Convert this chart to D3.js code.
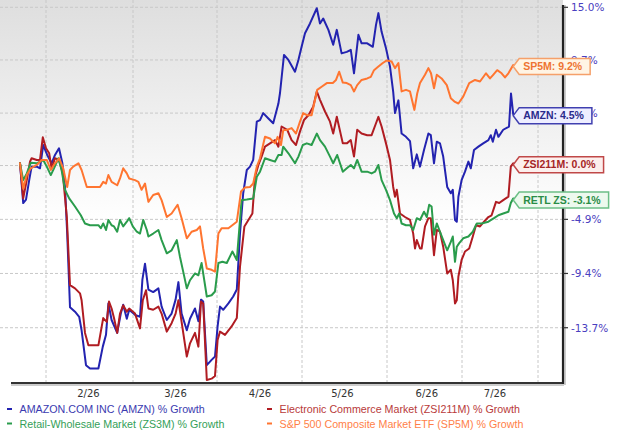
<!DOCTYPE html>
<html><head><meta charset="utf-8">
<script src="https://cdn.jsdelivr.net/npm/d3@7"></script>
<style>body{margin:0;background:#fff}svg{display:block}</style>
</head><body><svg id="c" width="619" height="436"></svg>
<script>
// [session index, % growth]
const amzn = [[0,0],[0.8,-3.5],[1.5,-3.2],[2.3,-1.5],[2.9,-0.3],[4.2,-0.3],[5,-0.45],[5.8,1.65],[6.8,0.75],[7.9,0],[8.75,0.75],[9.75,1.35],[10.6,0],[11.25,-2.1],[11.8,-6.1],[12.5,-12.1],[13.75,-12.45],[14.8,-12.85],[15.4,-13.9],[16.5,-16.55],[17.5,-16.8],[19.6,-16.8],[20.7,-15.15],[21.5,-14.25],[22.1,-11.8],[22.9,-13.1],[24.3,-14.1],[25.2,-12.6],[25.8,-11.9],[26.7,-13.0],[27.3,-12.3],[28.75,-12.7],[30,-12.85],[30.6,-9.9],[31.25,-8.6],[32.1,-10.7],[33.3,-10.9],[34.6,-10.6],[35.4,-12.05],[36.7,-13.1],[37.9,-12.6],[38.9,-11.5],[39.6,-10.1],[40.4,-12.6],[41.7,-13.9],[42.5,-13.0],[43.75,-12.2],[44.6,-13.2],[45.25,-11.5],[45.8,-11.65],[46.7,-16.55],[47.9,-16.15],[48.75,-15.9],[49.4,-13.6],[50,-12.05],[50.8,-12.3],[52.1,-11.8],[53.3,-11.25],[54.2,-10.7],[55,-6.1],[55.8,-2.65],[56.7,-0.6],[57.5,-0.3],[58.3,0.3],[59.2,3.8],[60,3.95],[60.8,4.6],[62.1,4.1],[63.3,3.65],[64.6,5.5],[65,6.5],[66,10.2],[67.1,9.7],[68.75,8.55],[69.6,9.7],[70.4,11.0],[71.25,12.35],[72.5,13.35],[74.2,14.9],[75,13.35],[75.8,13.85],[77.1,12.7],[78.3,11.2],[79.2,12.7],[80.4,10.35],[81.7,10.5],[82.7,10.7],[83.5,8.4],[84.6,12.2],[85.4,11.35],[86.8,11.35],[88.2,11.0],[89,13.2],[89.6,14.4],[90.4,12.5],[91.5,10.85],[92.5,9.05],[93.3,6.6],[93.75,4.6],[94.6,5.8],[95.4,2.7],[96.5,2.4],[97.5,2.0],[98.3,-0.45],[99.2,0.8],[100,-0.3],[101,1.2],[102.1,2.7],[102.7,2.55],[103.5,0],[104.2,1.95],[105,1.8],[105.8,0.6],[106.8,-2.1],[107.7,-2.65],[108.2,-2.35],[108.75,-4.95],[109.2,-5.1],[109.6,-2.95],[110.4,-1.5],[111.25,-0.75],[112.1,0.15],[112.7,-0.45],[113.5,1.2],[114.6,1.5],[115.8,1.8],[117.1,2.1],[117.7,2.55],[118.2,1.95],[119,3.05],[119.6,2.4],[120.8,3.05],[122.25,3.35],[122.75,6.45],[123.3,4.5]];

const zsi211m = [[0,0],[0.8,-3.1],[1.7,-1.5],[2.5,0.15],[2.9,0.45],[4.2,0.3],[5,0.3],[5.7,2.35],[6.5,1.35],[7.3,0.9],[7.9,-0.45],[8.75,0.45],[9.75,0.3],[10.7,-0.9],[11.7,-4.7],[12.5,-10.35],[13.75,-10.6],[15,-11.0],[15.4,-11.55],[16.25,-14.1],[17.1,-15.05],[19.6,-15.05],[20.8,-12.95],[21.7,-13.25],[22.25,-11.65],[22.9,-12.2],[23.5,-12.95],[24.3,-14.1],[25,-12.6],[25.8,-11.95],[26.7,-12.45],[27.3,-12.2],[28.75,-12.6],[30,-13.75],[30.7,-11.55],[31.5,-10.75],[32.1,-12.2],[33.3,-12.3],[34.6,-12.05],[35.4,-12.6],[36.7,-14.0],[37.9,-13.35],[38.9,-12.6],[39.6,-11.55],[40.4,-13.25],[41.7,-15.9],[42.5,-14.9],[43.75,-14.1],[44.6,-15.15],[45.25,-11.65],[45.8,-11.8],[46.7,-17.65],[47.9,-17.55],[48.75,-17.35],[49.4,-14.65],[50,-14.0],[51.25,-14.25],[52.9,-13.6],[54.2,-12.95],[55,-8.85],[56.1,-5.5],[57.1,-4.95],[58.1,-4.4],[58.75,-1.2],[59.6,-0.15],[60.4,0.6],[61.25,1.5],[62.5,1.8],[63.75,2.1],[64.6,1.5],[65.4,3.35],[66.8,3.05],[67.9,2.1],[69,1.65],[70,2.9],[71,3.95],[72.1,4.4],[73.3,5.2],[74.2,6.65],[75,5.85],[76.25,4.75],[77.5,3.8],[78.3,2.7],[79.2,4.25],[80.7,1.8],[81.7,1.8],[82.7,2.1],[83.5,0.6],[84.3,3.05],[85.4,2.7],[86.8,2.55],[87.9,2.55],[89,3.65],[89.6,4.25],[90.4,3.35],[91.5,1.8],[92.5,0.3],[93.3,-2.1],[93.75,-2.95],[94.2,-2.35],[95,-4.4],[96.25,-4.7],[97.5,-4.95],[98.3,-6.1],[98.75,-7.35],[99.2,-6.65],[100,-7.35],[100.4,-7.35],[101.25,-5.5],[102.1,-4.8],[102.7,-4.8],[103.5,-7.9],[104.2,-5.8],[105,-5.95],[105.8,-7.2],[106.8,-9.4],[107.7,-9.1],[108.2,-9.95],[108.75,-11.8],[109.2,-11.55],[109.6,-9.65],[110.4,-8.3],[111.25,-7.6],[112.3,-7.35],[113.2,-6.35],[114,-5.4],[115,-5.5],[116,-5.1],[117.1,-4.7],[117.9,-4.55],[119,-3.4],[119.8,-3.5],[120.8,-3.25],[122.1,-2.95],[122.7,-0.3],[123.3,0]];

const zs3m = [[0,0],[0.8,-1.5],[1.7,-0.9],[2.7,0.05],[4.2,0],[5,0.15],[5.8,0.3],[6.7,-0.3],[7.7,-1.05],[8.5,-0.45],[9.6,0.45],[10.4,-0.6],[11.25,-2.35],[12.3,-3.1],[13.75,-3.8],[15.2,-4.55],[16.25,-5.25],[17.5,-5.4],[19.6,-5.4],[20.2,-5.65],[20.8,-5.25],[21.5,-5.8],[22.1,-4.95],[22.9,-5.4],[23.5,-5.5],[24.3,-5.95],[25,-4.95],[25.8,-5.5],[26.7,-5.1],[27.3,-4.8],[28.2,-5.5],[29.2,-5.95],[30,-6.1],[30.8,-4.95],[31.7,-5.8],[32.1,-6.35],[33.3,-6.1],[34.6,-5.8],[35.4,-6.65],[36.7,-7.75],[37.9,-7.5],[39.2,-6.65],[40,-8.05],[40.8,-9.25],[41.7,-10.6],[42.5,-9.95],[43.75,-9.4],[44.6,-9.55],[45.4,-8.55],[46.7,-11.25],[47.9,-11.15],[48.75,-10.85],[49.6,-8.55],[50.6,-8.45],[51.7,-8.55],[53.1,-7.6],[54.2,-8.3],[55.4,-3.25],[56.7,-3.2],[58.3,-3.1],[59.2,-1.2],[60,-0.75],[61.25,0.45],[62.5,0.3],[63.75,0.15],[64.6,0.75],[65.4,0.75],[65.8,1.5],[67.1,0.9],[68.75,0],[69.6,0.6],[70.7,1.65],[71.7,1.8],[72.9,1.65],[74.2,2.7],[75,2.1],[76.25,1.5],[77.5,0.6],[78.3,0],[79.3,0.75],[80.7,-0.75],[81.7,-0.45],[82.7,-0.15],[83.5,-0.45],[84.3,0.3],[85.4,-0.75],[86.8,-0.75],[87.9,-0.9],[88.75,-0.75],[89.6,-0.15],[90.4,-1.5],[91.5,-2.35],[92.5,-3.25],[93.5,-4.4],[94.2,-4.8],[94.8,-4.4],[95.4,-5.25],[96.5,-5.4],[97.5,-5.4],[98.3,-5.8],[99.2,-4.8],[100,-4.95],[101,-4.25],[101.7,-4.7],[102.3,-3.65],[102.9,-3.8],[103.5,-6.2],[104.2,-5.25],[105,-5.95],[105.8,-6.65],[106.8,-7.5],[107.7,-6.8],[108.2,-6.35],[108.75,-8.45],[109.2,-7.2],[109.8,-6.9],[110.8,-6.5],[112.1,-6.35],[113.2,-5.95],[114.2,-5.25],[115.4,-5.25],[117.1,-5.1],[118.5,-4.8],[119.6,-4.55],[120.8,-4.4],[122.1,-4.25],[122.7,-3.5],[123.3,-3.1]];

const sp5m = [[0,0],[0.8,-2.25],[1.7,-1.05],[2.7,-0.45],[4.2,-0.15],[5.4,0.3],[6.7,0.3],[7.7,-0.6],[8.75,0],[9.8,0.45],[10.8,-0.45],[11.8,-2.1],[12.5,-0.6],[13.3,-0.3],[14.6,0],[15.4,-0.6],[16.7,-2.1],[20,-2.1],[20.8,-1.65],[21.5,-1.8],[22.1,-1.05],[22.9,-1.65],[24.3,-1.95],[25,-1.35],[25.8,-0.45],[26.7,-0.9],[27.3,-1.35],[28.75,-1.5],[29.6,-1.65],[30.4,-2.35],[31.25,-1.8],[32.1,-3.4],[33.3,-2.8],[34.6,-2.65],[35.4,-3.25],[36.7,-4.7],[37.9,-4.4],[39.4,-3.65],[40.4,-4.8],[41.7,-6.5],[42.9,-5.95],[44.2,-5.8],[45,-5.5],[45.8,-7.35],[46.7,-9.0],[47.9,-9.1],[48.75,-9.25],[49.6,-6.1],[50.4,-5.65],[52.1,-5.65],[54.2,-5.1],[55.25,-2.5],[56.25,-2.15],[57.5,-2.1],[58.3,-1.8],[59.2,-0.3],[60,0.45],[61.25,2.4],[62.5,2.25],[63.75,1.8],[64.4,2.4],[65.25,1.65],[65.8,3.0],[66.8,3.05],[67.9,3.2],[69,2.7],[70,3.8],[70.8,4.6],[71.7,4.4],[72.9,4.4],[73.75,5.85],[74.3,6.8],[75.4,7.1],[76.7,7.45],[78.2,7.45],[79,7.75],[79.8,8.55],[80.7,7.5],[81.7,7.45],[82.7,7.25],[83.5,6.65],[84.3,7.25],[85.4,7.75],[86.8,7.9],[87.7,8.05],[88.5,8.7],[89.6,9.05],[90.7,9.4],[91.7,9.65],[92.9,9.55],[93.75,8.9],[94.6,9.4],[95.4,6.65],[96.5,6.8],[97.5,6.65],[98.6,4.9],[99.3,6.45],[100,7.45],[101.25,8.25],[102.1,8.9],[102.75,8.4],[103.5,6.95],[104.2,8.25],[105.4,7.9],[106.7,7.25],[107.7,6.0],[108.75,5.65],[109.6,5.5],[110.8,6.15],[112.3,7.45],[113.75,7.75],[115,7.6],[116.5,8.4],[117.5,7.9],[118.3,8.25],[119.3,8.7],[120.4,8.4],[121.25,8.0],[122.1,8.4],[123.3,9.2]];

const legendNames = ["AMAZON.COM INC (AMZN) % Growth","Electronic Commerce Market (ZSI211M) % Growth","Retail-Wholesale Market (ZS3M) % Growth","S&P 500 Composite Market ETF (SP5M) % Growth"];
const endLabels = ["AMZN: 4.5%","ZSI211M: 0.0%","RETL ZS: -3.1%","SP5M: 9.2%"];
const yTickValues = [15.0, 9.7, 4.6, -0.2, -4.9, -9.4, -13.7];
const yTickLabels = ["15.0%","9.7%","4.6%","-0.2%","-4.9%","-9.4%","-13.7%"];
const monthBoundaries = [6.5, 28.25, 49.25, 70.5, 91.75, 110.5, 129.5];
const monthLabelPos = [17.1, 38.9, 60, 80.6, 101.7, 118.75];
const monthLabels = ["2/26","3/26","4/26","5/26","6/26","7/26"];

const series = [
  {data: amzn, line:"#2323b0", text:"#2a2a8c", fill:"#eeeeff", stroke:"#4040b0", leg:"#3b3bb0"},
  {data: zsi211m, line:"#b01c22", text:"#a52525", fill:"#fcefed", stroke:"#c04848", leg:"#b83a3a"},
  {data: zs3m, line:"#2a9c4c", text:"#2a8c46", fill:"#edf9ee", stroke:"#6cbf86", leg:"#34a058"},
  {data: sp5m, line:"#ff7530", text:"#ee7433", fill:"#fff4e4", stroke:"#f5a06a", leg:"#ff7f48"}
];

const svg = d3.select("#c");
const x = d3.scaleLinear().domain([-2.25, 135.75]).range([11, 563]);
const yLog = d3.scaleLog().domain([0.8213, 1.15]).range([383, 7.3]);
const y = v => yLog(1 + v / 100);
const bottom = 383, right = 563;

const defs = svg.append("defs");
const grad = defs.append("linearGradient").attr("id","bg").attr("x1",0).attr("y1",0).attr("x2",0).attr("y2",1);
grad.append("stop").attr("offset","0%").attr("stop-color","#dedede");
grad.append("stop").attr("offset","58%").attr("stop-color","#ffffff");
svg.append("rect").attr("x",0).attr("y",0).attr("width",right).attr("height",bottom).attr("fill","url(#bg)");

// gridlines
svg.append("g").selectAll("line").data(yTickValues).join("line")
  .attr("x1",0).attr("x2",right).attr("y1",d=>y(d)).attr("y2",d=>y(d))
  .attr("stroke","#c8c8c8").attr("stroke-width",1).attr("stroke-dasharray","3,2");
svg.append("g").selectAll("line").data(monthBoundaries).join("line")
  .attr("x1",d=>x(d)).attr("x2",d=>x(d)).attr("y1",0).attr("y2",bottom)
  .attr("stroke","#c8c8c8").attr("stroke-width",1).attr("stroke-dasharray","3,2");

// lines
const lineGen = d3.line().x(d=>x(d[0])).y(d=>y(d[1]));
series.forEach(s => {
  svg.append("path").datum(s.data).attr("d", lineGen)
    .attr("fill","none").attr("stroke", s.line).attr("stroke-width",2)
    .attr("stroke-linejoin","round").attr("stroke-linecap","round");
});

// axes
svg.append("line").attr("x1",11).attr("x2",right+1).attr("y1",bottom+2).attr("y2",bottom+2).attr("stroke","#bbb").attr("stroke-width",1.5);
svg.append("line").attr("x1",11).attr("x2",right+1).attr("y1",bottom).attr("y2",bottom).attr("stroke","#333").attr("stroke-width",2.2);
svg.append("line").attr("x1",right+2).attr("x2",right+2).attr("y1",5).attr("y2",bottom+2).attr("stroke","#bbb").attr("stroke-width",1.5);
svg.append("line").attr("x1",right).attr("x2",right).attr("y1",5).attr("y2",bottom+1).attr("stroke","#222").attr("stroke-width",2.2);

const yt = svg.append("g");
yt.selectAll("line").data(yTickValues).join("line")
  .attr("x1",right).attr("x2",right+5).attr("y1",d=>y(d)).attr("y2",d=>y(d))
  .attr("stroke","#333").attr("stroke-width",1.2);
yt.selectAll("text").data(yTickValues).join("text")
  .attr("x",right+8).attr("y",d=>y(d)+3.8)
  .attr("font-family","DejaVu Sans, Verdana, sans-serif").attr("font-size",10.5)
  .attr("fill","#4a40c0").text((d,i)=>yTickLabels[i]);

svg.append("g").selectAll("text").data(monthLabelPos).join("text")
  .attr("x",d=>x(d)).attr("y",bottom+14).attr("text-anchor","middle")
  .attr("font-family","DejaVu Sans, Verdana, sans-serif").attr("font-size",10)
  .attr("fill","#333").text((d,i)=>monthLabels[i]);

// end labels (drawn over the tick labels, as in the source chart)
series.forEach((s,i) => {
  const last = s.data[s.data.length-1];
  const tipX = x(last[0]);
  const cy = y(last[1]) + 1.5;
  const g = svg.append("g");
  const path = g.append("path");
  const t = g.append("text").attr("x", tipX + 10).attr("y", cy + 3.7)
    .attr("font-family","Liberation Sans, Arial, sans-serif").attr("font-weight","bold")
    .attr("font-size",10.5).attr("fill", s.text).text(endLabels[i]);
  const tw = t.node().getComputedTextLength();
  const h = 16, x0 = tipX, x1 = tipX + 6, x2 = tipX + 10 + tw + 8;
  path.attr("d", `M${x0},${cy} L${x1},${cy-h/2} L${x2},${cy-h/2} L${x2},${cy+h/2} L${x1},${cy+h/2} Z`)
    .attr("fill", s.fill).attr("stroke", s.stroke).attr("stroke-width",1.5);
});

// legend
const legPos = [[7,413],[267,413],[7,427.5],[267,427.5]];
series.forEach((s,i) => {
  const [lx, ly] = legPos[i];
  svg.append("line").attr("x1",lx).attr("x2",lx+5).attr("y1",ly-4).attr("y2",ly-4)
    .attr("stroke", s.line).attr("stroke-width",2);
  svg.append("text").attr("x", lx+12.5).attr("y", ly)
    .attr("font-family","Liberation Sans, Arial, sans-serif").attr("font-size",10.7)
    .attr("fill", s.leg).text(legendNames[i]);
});
</script></body></html>
